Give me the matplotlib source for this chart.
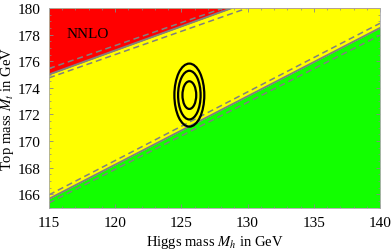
import numpy as np
import matplotlib
matplotlib.use("Agg")
import matplotlib.pyplot as plt
from matplotlib.patches import Ellipse
from matplotlib.ticker import MultipleLocator

# Data
mh_ends = [115, 140]
# upper boundary (NNLO red / yellow): Mt at Mh=115 and Mh=140
upper_solid = [175.0, 175.0 + 0.362 * 25]
upper_dash_hi = [175.45, 175.45 + 0.345 * 25]
upper_dash_lo = [174.75, 174.75 + 0.350 * 25]
# lower boundary (yellow / green)
lower_solid = [165.65, 178.5]
lower_dash_hi = [165.95, 178.85]
lower_dash_lo = [165.35, 177.95]
# experimental ellipses
center = (125.6, 173.45)
half_w = [0.52, 0.85, 1.13]
half_h = [1.04, 1.83, 2.37]

xlim = (115, 140)
ylim = (165, 180)

plt.rcParams['font.family'] = ['Liberation Serif', 'DejaVu Serif']
plt.rcParams['mathtext.fontset'] = 'stix'

fig = plt.figure(figsize=(3.92, 2.53), dpi=100)
ax = fig.add_axes([49/392, 1 - 208.5/253, (380-49)/392, (208.5-9)/253])

x = np.array(mh_ends, dtype=float)
red_c = '#ff0000'
yel_c = '#ffff00'
grn_c = '#12ff00'

ax.fill_between(x, ylim[0], ylim[1], color=yel_c, lw=0, zorder=0)
ax.fill_between(x, upper_solid, ylim[1], color=red_c, lw=0, zorder=1)
ax.fill_between(x, ylim[0], lower_solid, color=grn_c, lw=0, zorder=1)

gray = '#808080'
ax.plot(x, upper_solid, color=gray, lw=1.4, zorder=2)
ax.plot(x, upper_dash_hi, color=gray, lw=1.1, ls=(0, (4, 2.5)), zorder=2)
ax.plot(x, upper_dash_lo, color=gray, lw=1.1, ls=(0, (4, 2.5)), zorder=2)
ax.plot(x, lower_solid, color=gray, lw=1.4, zorder=2)
ax.plot(x, lower_dash_hi, color=gray, lw=1.1, ls=(0, (4, 2.5)), zorder=2)
ax.plot(x, lower_dash_lo, color=gray, lw=1.1, ls=(0, (4, 2.5)), zorder=2)

for w, h in zip(half_w, half_h):
    ax.add_patch(Ellipse(center, 2 * w, 2 * h, fill=False, ec='black', lw=1.6, zorder=3))

ax.text(117.9, 178.05, 'NNLO', fontsize=11, ha='center', va='center', zorder=4)

ax.set_xlim(*xlim)
ax.set_ylim(*ylim)
ax.xaxis.set_major_locator(MultipleLocator(5))
ax.xaxis.set_minor_locator(MultipleLocator(1))
ax.yaxis.set_major_locator(MultipleLocator(2))
ax.yaxis.set_minor_locator(MultipleLocator(0.5))
ax.tick_params(which='both', direction='in', top=True, right=True, color='#888888',
               labelsize=11, pad=6)
ax.tick_params(which='major', length=3, width=0.6)
ax.tick_params(which='minor', length=1.5, width=0.5)
for s in ax.spines.values():
    s.set_color('#aaaaaa')
    s.set_linewidth(0.6)

ax.set_xlabel('Higgs mass $M_h$ in GeV', fontsize=10.5, labelpad=3)
ax.set_ylabel('Top mass $M_t$ in GeV', fontsize=10.5, labelpad=1)

fig.savefig('out.png', dpi=100)
